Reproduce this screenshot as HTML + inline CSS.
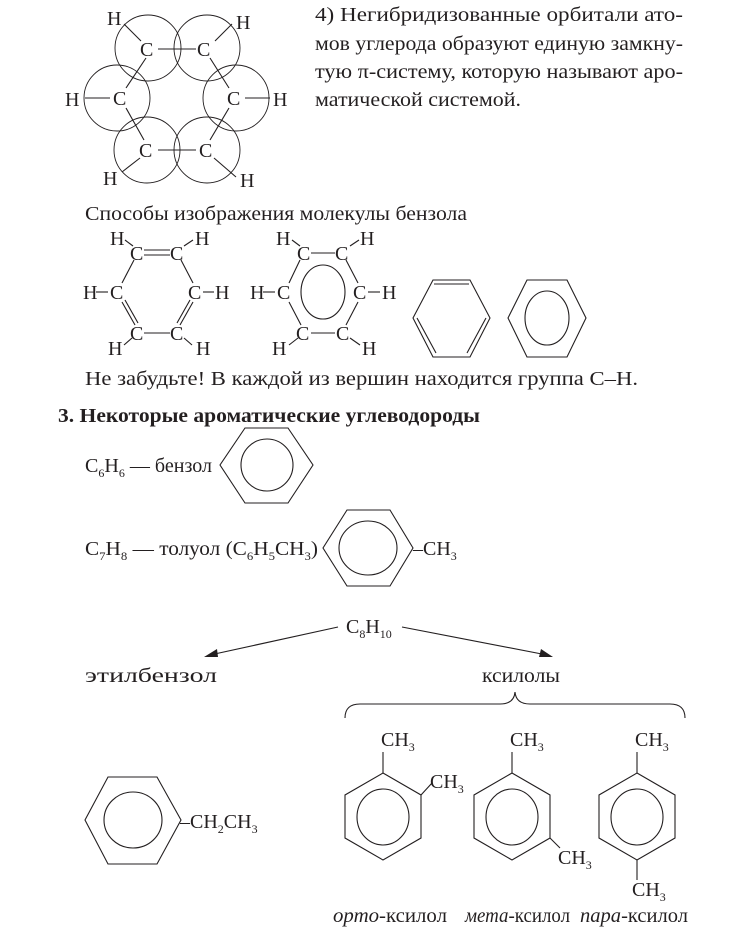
<!DOCTYPE html>
<html><head><meta charset="utf-8"><style>
html,body{margin:0;padding:0;background:#fff;}
svg{display:block;}
text{font-family:"Liberation Serif",serif;font-size:20px;fill:#231f20;}
.s{font-size:12px;}
.b{font-weight:bold;}
.st{stroke:#231f20;stroke-width:1.1;fill:none;}
.fl{fill:#231f20;stroke:none;}
</style></head><body>
<svg width="743" height="949" viewBox="0 0 743 949" xmlns="http://www.w3.org/2000/svg">
<g class="st">
<g stroke-width="0.9">
<circle cx="148" cy="48" r="33"/><circle cx="207" cy="48" r="33"/>
<circle cx="236" cy="98" r="33"/><circle cx="117" cy="98" r="33"/>
<circle cx="147" cy="150" r="33"/><circle cx="207" cy="150" r="33"/>
</g>
<line x1="158" y1="49" x2="196" y2="49"/>
<line x1="158" y1="150" x2="196" y2="150"/>
<line x1="146" y1="58" x2="126" y2="88"/><line x1="126" y1="108" x2="144" y2="140"/>
<line x1="210" y1="58" x2="229" y2="88"/><line x1="229" y1="108" x2="210" y2="140"/>
<line x1="124" y1="24" x2="141" y2="41"/><line x1="232" y1="24" x2="215" y2="41"/>
<line x1="85" y1="98" x2="110" y2="98"/><line x1="245" y1="98" x2="270" y2="98"/>
<line x1="140" y1="158" x2="122" y2="172"/><line x1="214" y1="158" x2="236" y2="177"/>
</g>
<text x="140" y="56">C</text><text x="197" y="56">C</text>
<text x="113" y="105">C</text><text x="227" y="105">C</text>
<text x="139" y="157">C</text><text x="199" y="157">C</text>
<text x="107" y="25">H</text><text x="236" y="29">H</text>
<text x="65" y="106">H</text><text x="273" y="106">H</text>
<text x="103" y="185">H</text><text x="240" y="187">H</text>

<text x="315" y="21" textLength="368" lengthAdjust="spacingAndGlyphs">4) Негибридизованные орбитали ато-</text>
<text x="315" y="50" textLength="368" lengthAdjust="spacingAndGlyphs">мов углерода образуют единую замкну-</text>
<text x="315" y="78" textLength="368" lengthAdjust="spacingAndGlyphs">тую π-систему, которую называют аро-</text>
<text x="315" y="106" textLength="206" lengthAdjust="spacingAndGlyphs">матической системой.</text>

<text x="85" y="220" textLength="382" lengthAdjust="spacingAndGlyphs">Способы изображения молекулы бензола</text>

<text x="130" y="260">C</text><text x="170" y="260">C</text>
<text x="110" y="299">C</text><text x="188" y="299">C</text>
<text x="130" y="340">C</text><text x="170" y="340">C</text>
<text x="110" y="245">H</text><text x="195" y="245">H</text>
<text x="83" y="299">H</text><text x="215" y="299">H</text>
<text x="108" y="355">H</text><text x="196" y="355">H</text>
<g class="st">
<line x1="144" y1="250" x2="170" y2="250"/><line x1="144" y1="255" x2="170" y2="255"/>
<line x1="134" y1="260" x2="122" y2="283"/><line x1="181" y1="260" x2="193" y2="283"/>
<line x1="122" y1="302" x2="135" y2="325"/><line x1="125" y1="300" x2="138" y2="323"/>
<line x1="193" y1="302" x2="180" y2="325"/><line x1="190" y1="300" x2="177" y2="323"/>
<line x1="144" y1="333" x2="170" y2="333"/>
<line x1="96" y1="292" x2="108" y2="292"/><line x1="203" y1="292" x2="214" y2="292"/>
<line x1="125" y1="240" x2="133" y2="246"/><line x1="184" y1="246" x2="193" y2="240"/>
<line x1="124" y1="345" x2="132" y2="338"/><line x1="184" y1="338" x2="192" y2="345"/>
</g>
<text x="297" y="260">C</text><text x="335" y="260">C</text>
<text x="277" y="299">C</text><text x="353" y="299">C</text>
<text x="296" y="340">C</text><text x="336" y="340">C</text>
<text x="276" y="245">H</text><text x="360" y="245">H</text>
<text x="250" y="299">H</text><text x="382" y="299">H</text>
<text x="272" y="355">H</text><text x="362" y="355">H</text>
<g class="st">
<line x1="311" y1="253" x2="335" y2="253"/><line x1="311" y1="333" x2="335" y2="333"/>
<line x1="300" y1="260" x2="289" y2="283"/><line x1="346" y1="260" x2="358" y2="283"/>
<line x1="289" y1="302" x2="301" y2="325"/><line x1="358" y1="302" x2="346" y2="325"/>
<line x1="263" y1="292" x2="275" y2="292"/><line x1="368" y1="292" x2="380" y2="292"/>
<line x1="292" y1="240" x2="300" y2="246"/><line x1="350" y1="246" x2="359" y2="240"/>
<line x1="289" y1="345" x2="298" y2="338"/><line x1="350" y1="338" x2="360" y2="345"/>
<ellipse cx="323" cy="292" rx="22" ry="27"/>
<polygon points="433,280 470,280 490,318 470,357 433,357 413,318"/>
<line x1="434" y1="284" x2="469" y2="284"/>
<line x1="417" y1="318" x2="436" y2="353"/>
<line x1="486" y1="318" x2="467" y2="353"/>
<polygon points="527,280 567,280 586,318 567,357 527,357 508,318"/>
<ellipse cx="547" cy="318" rx="22" ry="27"/>
</g>

<text x="85" y="385" textLength="553" lengthAdjust="spacingAndGlyphs">Не забудьте! В каждой из вершин находится группа C–H.</text>
<text x="58" y="422" class="b" textLength="422" lengthAdjust="spacingAndGlyphs">3. Некоторые ароматические углеводороды</text>

<text x="85" y="472" textLength="127" lengthAdjust="spacingAndGlyphs">C<tspan class="s" dy="5">6</tspan><tspan dy="-5">H</tspan><tspan class="s" dy="5">6</tspan><tspan dy="-5"> — бензол</tspan></text>
<text x="85" y="555" textLength="233" lengthAdjust="spacingAndGlyphs">C<tspan class="s" dy="5">7</tspan><tspan dy="-5">H</tspan><tspan class="s" dy="5">8</tspan><tspan dy="-5"> — толуол (C</tspan><tspan class="s" dy="5">6</tspan><tspan dy="-5">H</tspan><tspan class="s" dy="5">5</tspan><tspan dy="-5">CH</tspan><tspan class="s" dy="5">3</tspan><tspan dy="-5">)</tspan></text>
<text x="413" y="555">–CH<tspan class="s" dy="5">3</tspan></text>
<text x="346" y="633">C<tspan class="s" dy="5">8</tspan><tspan dy="-5">H</tspan><tspan class="s" dy="5">10</tspan></text>

<g class="st">
<polygon points="245,428 288,428 313,465 288,503 245,503 220,465"/>
<circle cx="267" cy="465" r="26"/>
<polygon points="347,510 390,510 413,548 390,586 347,586 323,548"/>
<ellipse cx="368" cy="548" rx="29" ry="27"/>
<line x1="338" y1="627" x2="210" y2="655"/>
<line x1="402" y1="627" x2="547" y2="655"/>
<path d="M345,718 Q345,704 360,704 L500,704 Q514,704 515,692 Q516,704 530,704 L670,704 Q685,704 685,718"/>
<polygon points="108,777 157,777 181,820 157,864 108,864 85,820"/>
<ellipse cx="133" cy="820" rx="29" ry="28"/>
<polygon points="383,773 421,795 421,838 383,860 345,838 345,795"/>
<ellipse cx="383" cy="817" rx="26" ry="28"/>
<line x1="383" y1="773" x2="383" y2="752"/>
<line x1="421" y1="795" x2="432" y2="783"/>
<polygon points="512,773 550,795 550,838 512,860 474,838 474,795"/>
<ellipse cx="512" cy="817" rx="26" ry="28"/>
<line x1="512" y1="773" x2="512" y2="752"/>
<line x1="550" y1="838" x2="560" y2="848"/>
<polygon points="637,773 675,795 675,838 637,860 599,838 599,795"/>
<ellipse cx="637" cy="817" rx="26" ry="28"/>
<line x1="637" y1="773" x2="637" y2="752"/>
<line x1="637" y1="860" x2="637" y2="880"/>
</g>
<polygon class="fl" points="204,657 217,649 218,657"/>
<polygon class="fl" points="553,657 539,657 541,649"/>

<text x="85" y="682" textLength="132" lengthAdjust="spacingAndGlyphs">этилбензол</text>
<text x="482" y="682" textLength="78" lengthAdjust="spacingAndGlyphs">ксилолы</text>
<text x="180" y="828">–CH<tspan class="s" dy="5">2</tspan><tspan dy="-5">CH</tspan><tspan class="s" dy="5">3</tspan></text>

<text x="381" y="746">CH<tspan class="s" dy="5">3</tspan></text>
<text x="430" y="788">CH<tspan class="s" dy="5">3</tspan></text>
<text x="510" y="746">CH<tspan class="s" dy="5">3</tspan></text>
<text x="558" y="864">CH<tspan class="s" dy="5">3</tspan></text>
<text x="635" y="746">CH<tspan class="s" dy="5">3</tspan></text>
<text x="632" y="896">CH<tspan class="s" dy="5">3</tspan></text>

<text x="333" y="922" textLength="114" lengthAdjust="spacingAndGlyphs"><tspan font-style="italic">орто</tspan>-ксилол</text>
<text x="465" y="922" textLength="105" lengthAdjust="spacingAndGlyphs"><tspan font-style="italic">мета</tspan>-ксилол</text>
<text x="580" y="922" textLength="108" lengthAdjust="spacingAndGlyphs"><tspan font-style="italic">пара</tspan>-ксилол</text>
</svg>
</body></html>
